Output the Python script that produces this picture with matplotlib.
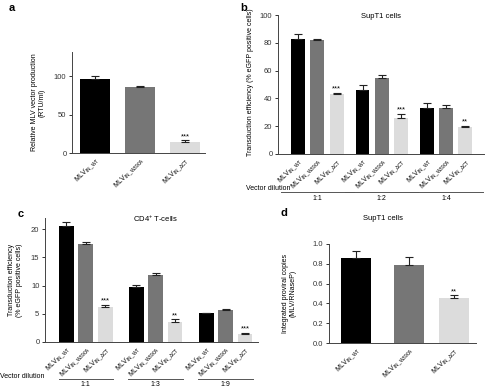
import matplotlib
matplotlib.use('Agg')
import matplotlib.pyplot as plt
import matplotlib.transforms as mtransforms
import numpy as np

plt.rcParams['font.family'] = ['Liberation Sans', 'DejaVu Sans']
plt.rcParams['mathtext.default'] = 'regular'

names = ['MLV$_{IN\\_WT}$', 'MLV$_{IN\\_W390A}$', 'MLV$_{IN\\_\\Delta CT}$']
colors = ['#000000', '#767676', '#dcdcdc']

# panel a - vector production
a_vals = [97, 86, 15]
a_err = [3, 2, 1.5]
a_sig = ['', '', '***']

# panel b - SupT1 transduction
b_dil = ['1:1', '1:2', '1:4']
b_vals = [[83, 82, 43], [46, 55, 26], [33, 33, 19.5]]
b_err = [[3.5, 1, 1], [4, 2, 3], [3.5, 2, 0.5]]
b_sig = [['', '', '***'], ['', '', '***'], ['', '', '**']]

# panel c - CD4+ T-cells
c_dil = ['1:1', '1:3', '1:9']
c_vals = [[20.6, 17.4, 6.2], [9.8, 11.8, 3.5], [5.1, 5.7, 1.4]]
c_err = [[0.7, 0.3, 0.4], [0.3, 0.4, 0.5], [0.1, 0.2, 0.2]]
c_sig = [['', '', '***'], ['', '', '**'], ['', '', '***']]

# panel d - integrated copies
d_vals = [0.86, 0.79, 0.45]
d_err = [0.07, 0.08, 0.03]
d_sig = ['', '', '**']

W, H = 492, 387
fig = plt.figure(figsize=(W / 100, H / 100), dpi=100)
FS = 5


def box(l, r, t, b):
    return [l / W, 1 - b / H, (r - l) / W, (b - t) / H]


def style(ax, ylim, ticks, fmt):
    ax.set_ylim(*ylim)
    ax.set_yticks(ticks)
    ax.set_yticklabels([fmt % t for t in ticks])
    for s in ['top', 'right']:
        ax.spines[s].set_visible(False)
    for s in ['left', 'bottom']:
        ax.spines[s].set_linewidth(0.7)
        ax.spines[s].set_color('#444444')
    ax.tick_params(axis='y', length=2, width=0.7, labelsize=FS + 0.5, pad=2, colors='#333333')
    ax.tick_params(axis='x', length=0, labelsize=FS, pad=2)


def bars(ax, x, vals, errs, sigs, width, ytop):
    ax.bar(x, vals, width, color=colors, zorder=2)
    ax.errorbar(x, vals, yerr=[np.zeros(len(vals)), errs], fmt='none',
                ecolor='#222222', elinewidth=0.8, capsize=3, capthick=0.8, zorder=3)
    for xi, v, e, s in zip(x, vals, errs, sigs):
        if s:
            ax.text(xi, v + e + ytop * 0.003, s, ha='center', va='bottom', fontsize=5.5)


def xlabels(ax, x):
    ax.set_xticks(x)
    ax.set_xticklabels(names * (len(x) // 3), rotation=45, ha='right',
                       rotation_mode='anchor', fontsize=FS)


def dilution(ax, groups, labels, pad, text_dy, line_dy, lab_dy, text_x):
    trans = mtransforms.blended_transform_factory(ax.transData, fig.transFigure)
    for g, lab in zip(groups, labels):
        x0, x1 = g[0] - pad, g[-1] + pad
        ax.plot([x0, x1], [1 - line_dy / H] * 2, color='#555555', lw=0.7,
                transform=trans, clip_on=False)
        ax.text((x0 + x1) / 2, 1 - lab_dy / H, lab, transform=trans,
                ha='center', va='center', fontsize=FS)
    fig.text(text_x / W, 1 - text_dy / H, 'Vector dilution', ha='right',
             va='center', fontsize=FS)


# a
ax = fig.add_axes(box(72, 205, 52, 153))
xa = np.arange(3)
bars(ax, xa, a_vals, a_err, a_sig, 0.67, 130)
style(ax, (0, 132), [0, 50, 100], '%d')
ax.set_xlim(-0.51, 2.44)
xlabels(ax, xa)
ax.set_ylabel('Relative MLV vector production\n(RTU/ml)', fontsize=FS, linespacing=1.1)
ax.yaxis.set_label_coords(-0.2, 0.5)

# b
ax = fig.add_axes(box(278, 484, 15, 154))
xb = np.concatenate([np.arange(3) + 3.35 * i for i in range(3)])
bars(ax, xb, np.ravel(b_vals), np.ravel(b_err), sum(b_sig, []), 0.72, 100)
style(ax, (0, 100), [0, 20, 40, 60, 80, 100], '%d')
ax.set_xlim(-1.05, 9.67)
xlabels(ax, xb)
ax.set_ylabel('Transduction efficiency (% eGFP positive cells)', fontsize=FS)
ax.yaxis.set_label_coords(-0.115, 0.52)
dilution(ax, [xb[0:3], xb[3:6], xb[6:9]], b_dil, 0.9, 188, 192, 198, 291)

# c
ax = fig.add_axes(box(45, 258, 218, 342))
xc = np.concatenate([np.arange(3) + 3.6 * i for i in range(3)])
bars(ax, xc, np.ravel(c_vals), np.ravel(c_err), sum(c_sig, []), 0.76, 22)
style(ax, (0, 22), [0, 5, 10, 15, 20], '%d')
ax.set_xlim(-1.1, 9.87)
xlabels(ax, xc)
ax.set_ylabel('Transduction efficiency\n(% eGFP positive cells)', fontsize=FS, linespacing=1.1)
ax.yaxis.set_label_coords(-0.105, 0.5)
dilution(ax, [xc[0:3], xc[3:6], xc[6:9]], c_dil, 0.4, 377, 379, 385, 44)

# d
ax = fig.add_axes(box(329, 476, 244, 343))
xd = np.array([0, 1.05, 1.95])
bars(ax, xd, d_vals, d_err, d_sig, 0.6, 1.0)
style(ax, (0, 1.0), [0, 0.2, 0.4, 0.6, 0.8, 1.0], '%.1f')
ax.set_xlim(-0.55, 2.4)
xlabels(ax, xd)
ax.set_ylabel('Integrated proviral copies\n(MLV/RNaseP)', fontsize=FS, linespacing=1.1)
ax.yaxis.set_label_coords(-0.22, 0.5)

# titles
fig.text(381 / W, 1 - 16 / H, 'SupT1 cells', ha='center', va='center', fontsize=5.5)
fig.text(155 / W, 1 - 219 / H, 'CD4$^{+}$ T-cells', ha='center', va='center', fontsize=5.5)
fig.text(383 / W, 1 - 219 / H, 'SupT1 cells', ha='center', va='center', fontsize=5.5)

# panel letters
for lab, px, py in [('a', 12, 8), ('b', 244, 8), ('c', 21, 214), ('d', 284, 213)]:
    fig.text(px / W, 1 - py / H, lab, ha='center', va='center', fontsize=8, fontweight='bold')

fig.savefig('out.png', dpi=100)
